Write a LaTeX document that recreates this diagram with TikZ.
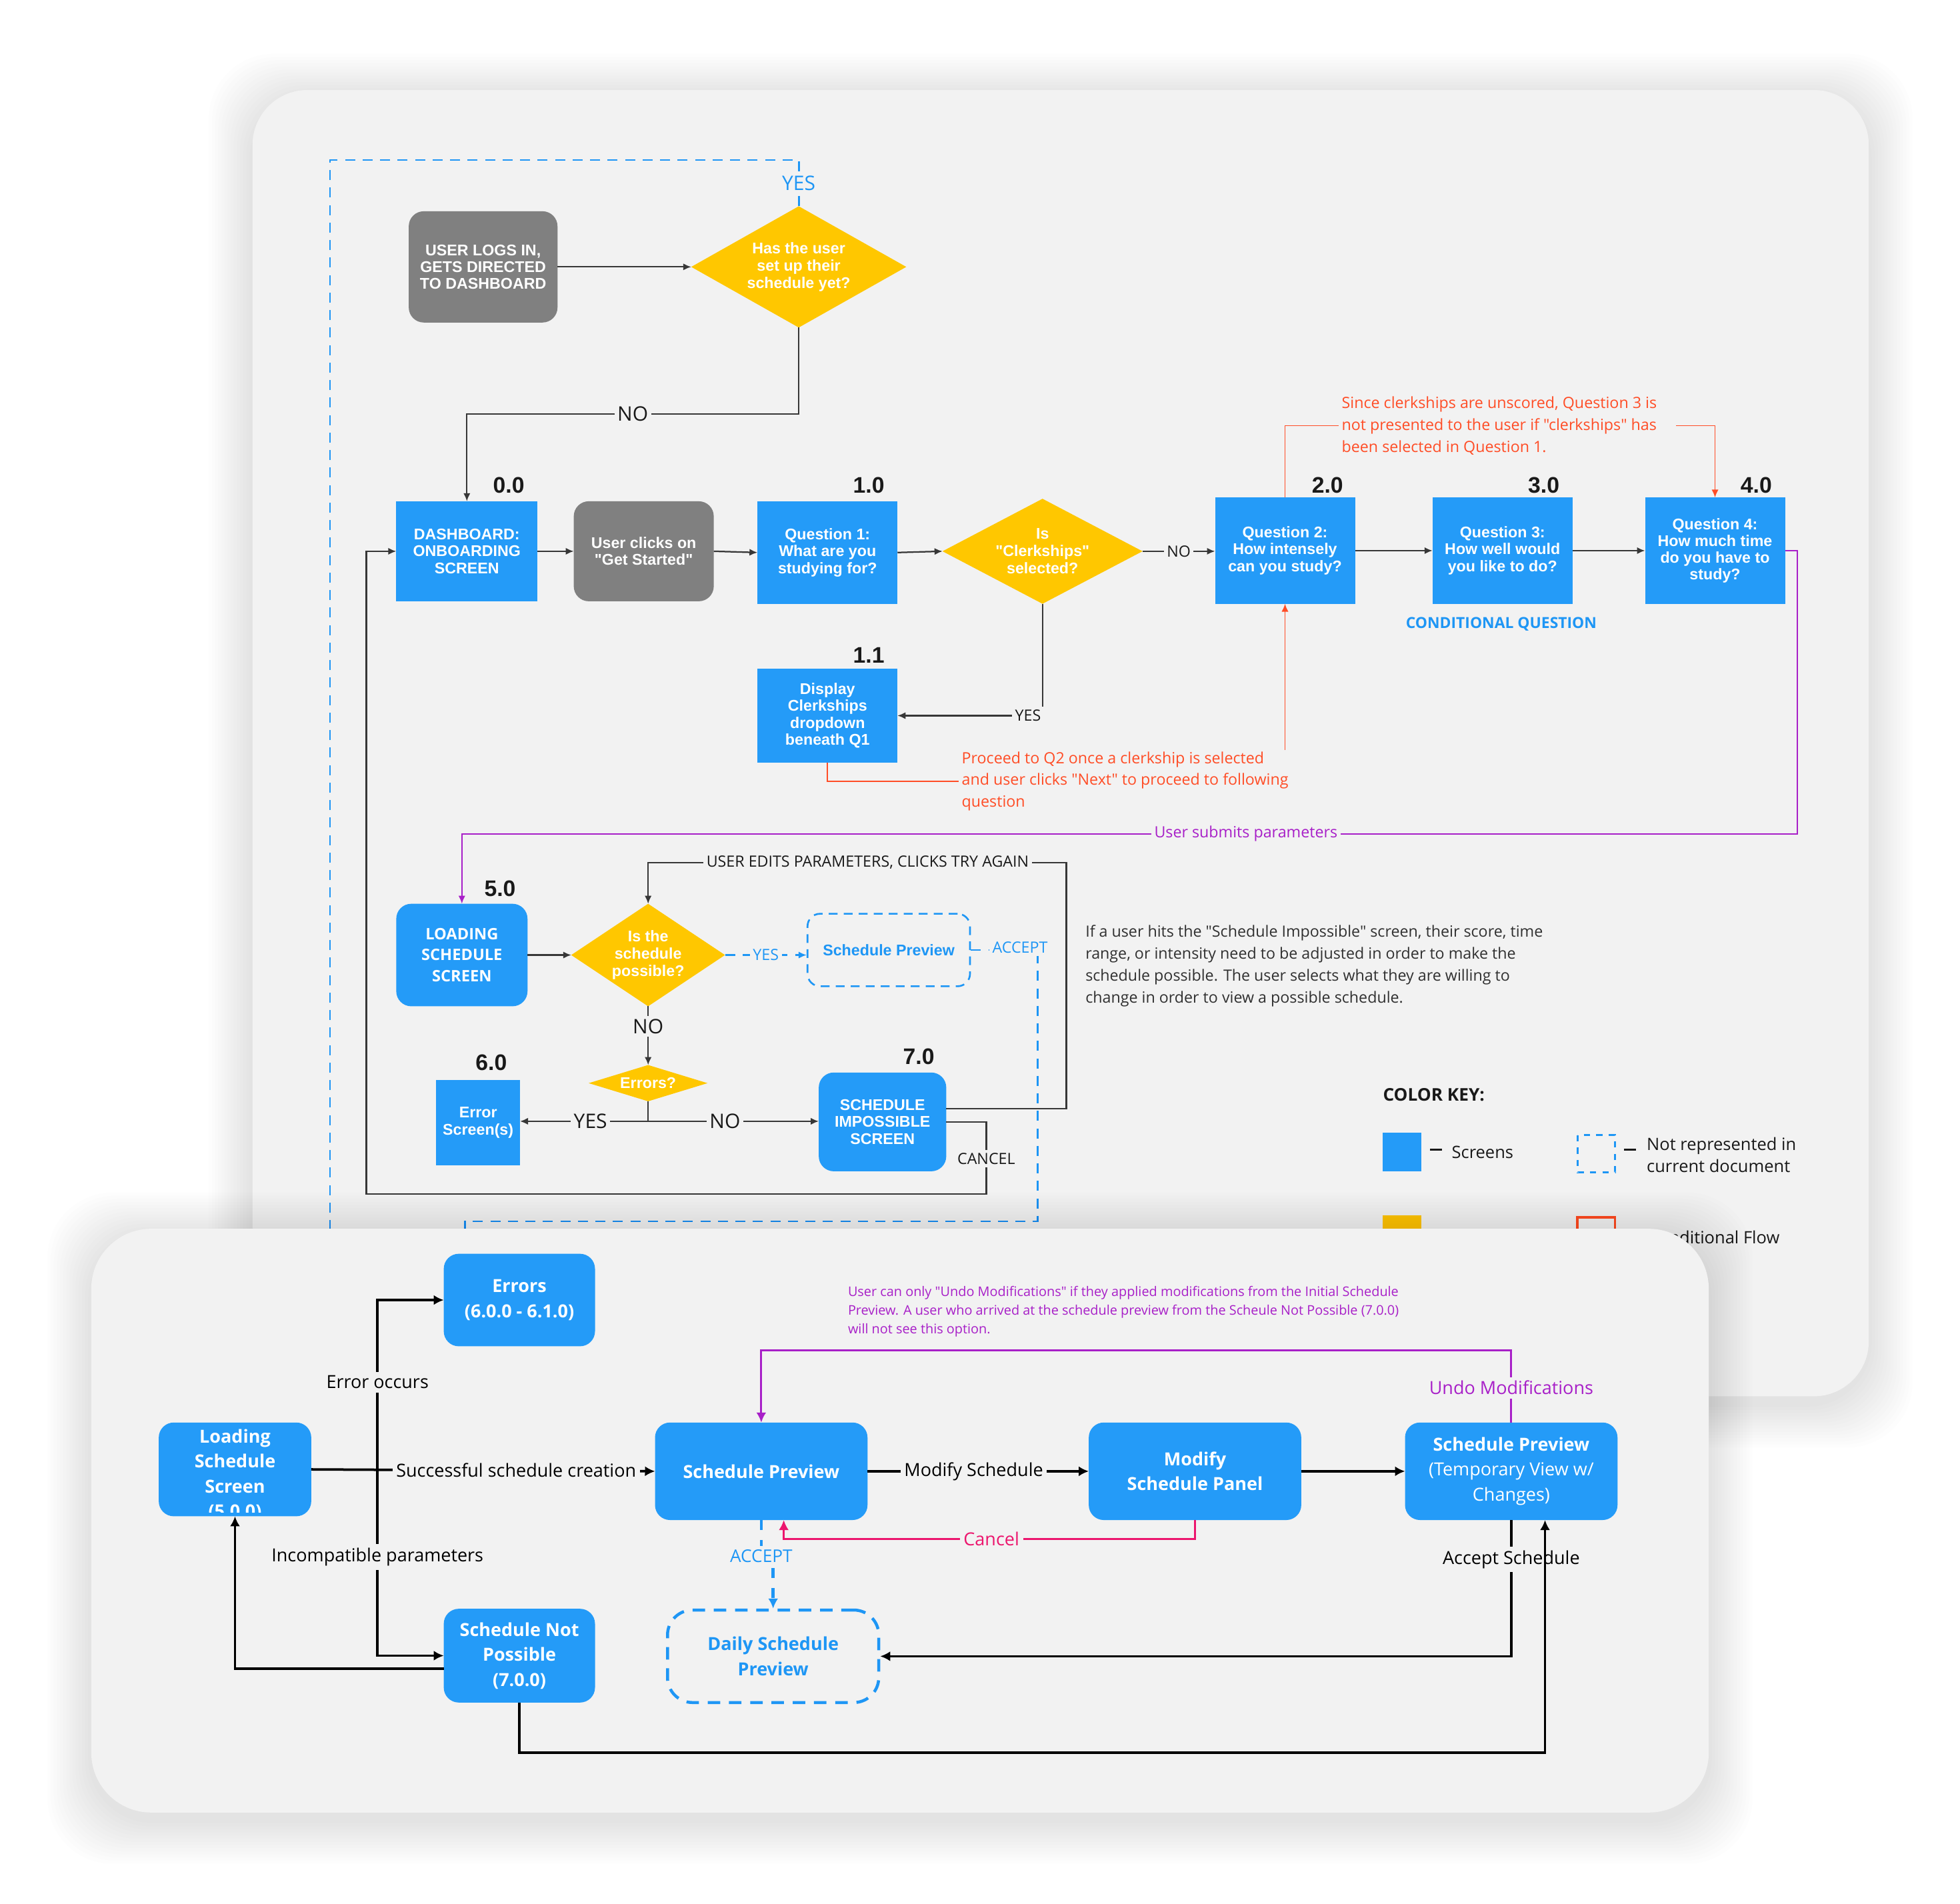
\documentclass[tikz,border=0pt]{standalone}
\usepackage{fontspec}
\setmainfont{Open Sans}[Ligatures=TeXOff]
\newfontfamily\arb{Liberation Sans}
\usetikzlibrary{shapes.geometric,arrows.meta}
\definecolor{scrblue}{RGB}{36,155,248}
\definecolor{yel}{RGB}{255,199,0}
\definecolor{gbox}{RGB}{128,128,128}
\definecolor{pbg}{RGB}{242,242,242}
\definecolor{redn}{RGB}{255,77,38}
\definecolor{purp}{RGB}{168,32,200}
\definecolor{pinkc}{RGB}{236,22,110}
\definecolor{lblue}{RGB}{30,150,245}
\definecolor{ink}{RGB}{25,25,25}
\definecolor{lnk}{RGB}{55,55,55}
\newcommand\mkshadow[4]{\foreach \k in {1,...,14}{\fill[black, opacity=0.007, rounded corners=26pt] (#1-\k*2.5, #2-\k*2.5+6) rectangle (#3+\k*2.5, #4+\k*2.5+6);}}
\newcommand\keydash{\raisebox{2.3pt}{\rule{4.8pt}{0.7pt}}}
\begin{document}
\begin{tikzpicture}[x=0.5pt,y=-0.5pt,
  scr/.style={fill=scrblue, draw=none, text=white, font=\arb\bfseries\fontsize{6.2}{6.75}\selectfont, align=center, inner sep=0pt, outer sep=0pt},
  gscr/.style={scr, fill=gbox, rounded corners=6pt},
  rscr/.style={scr, rounded corners=6pt},
  dmd/.style={diamond, fill=yel, draw=none, inner sep=0pt, outer sep=0pt},
  dtext/.style={text=white, font=\arb\bfseries\fontsize{6.2}{6.9}\selectfont, align=center, inner sep=0pt},
  num/.style={font=\arb\bfseries\fontsize{9}{9}\selectfont, text=ink, inner sep=0pt},
  ln/.style={draw=lnk, line width=0.6pt},
  arr/.style={-{Latex[length=3.2pt,width=2.8pt]}},
  lab/.style={fill=pbg, inner sep=1.2pt, font=\fontsize{6.2}{7}\selectfont, text=ink},
  biglab/.style={fill=pbg, inner sep=1.2pt, font=\fontsize{8}{9}\selectfont, text=ink},
  bdash/.style={draw=lblue, line width=0.75pt, dash pattern=on 4pt off 3pt},
  blab/.style={fill=pbg, inner sep=1.2pt, font=\fontsize{6.2}{7}\selectfont, text=lblue},
  rln/.style={draw=redn, line width=0.5pt},
  rtext/.style={font=\fontsize{6.2}{8.75}\selectfont, text=redn, align=left, inner sep=1pt},
  pln/.style={draw=purp, line width=0.6pt},
  plab/.style={fill=pbg, inner sep=1.2pt, font=\fontsize{6.2}{7}\selectfont, text=purp},
  keytext/.style={font=\fontsize{6.8}{8}\selectfont, text=ink, inner sep=0pt},
  box2/.style={fill=scrblue, draw=none, text=white, rounded corners=6pt, font=\bfseries\fontsize{7.2}{10}\selectfont, align=center, inner sep=0pt, outer sep=0pt},
  tk/.style={draw=black, line width=1pt},
  arr2/.style={-{Latex[length=4pt,width=4pt]}},
  lab2/.style={fill=pbg, inner sep=1.5pt, font=\fontsize{7.2}{8}\selectfont, text=black},
]
\useasboundingbox (0,0) rectangle (1568,1523);
\fill[white] (0,0) rectangle (1568,1523);

% ================= PANEL 1 =================
\mkshadow{202}{72}{1495}{1117}
\fill[pbg, rounded corners=22pt] (202,72) rectangle (1495,1117);

% nodes
\node[gscr, minimum width=59.5pt, minimum height=44.5pt] (login) at (386.5,213.5) {USER LOGS IN,\\GETS DIRECTED\\TO DASHBOARD};
\node[dmd, minimum width=86pt, minimum height=48.5pt] (d1) at (639,213.5) {};
\node[dtext] (d1t) at (d1.center) {Has the user\\set up their\\schedule yet?};

\node[scr, minimum width=56.5pt, minimum height=40pt] (dash) at (373.5,441) {DASHBOARD:\\ONBOARDING\\SCREEN};
\node[gscr, minimum width=56pt, minimum height=40pt] (click) at (515,441) {User clicks on\\"Get Started"};
\node[scr, minimum width=56pt, minimum height=41pt] (q1) at (662,442) {Question 1:\\What are you\\studying for?};
\node[dmd, minimum width=80pt, minimum height=42pt] (d2) at (834,441) {};
\node[dtext] (d2t) at (d2.center) {Is\\"Clerkships"\\selected?};
\node[scr, minimum width=56pt, minimum height=42.5pt] (q2) at (1028,440.5) {Question 2:\\How intensely\\can you study?};
\node[scr, minimum width=56pt, minimum height=42.5pt] (q3) at (1202,440.5) {Question 3:\\How well would\\you like to do?};
\node[scr, minimum width=56pt, minimum height=42.5pt] (q4) at (1372,440.5) {Question 4:\\How much time\\do you have to\\study?};
\node[scr, minimum width=56pt, minimum height=37.5pt] (q11) at (662,572.5) {Display\\Clerkships\\dropdown\\beneath Q1};

\node[rscr, font=\bfseries\fontsize{6.3}{8.5}\selectfont, minimum width=52.5pt, minimum height=41pt] (load5) at (369.5,764) {LOADING\\SCHEDULE\\SCREEN};
\node[dmd, minimum width=61.5pt, minimum height=41pt] (d3) at (518.5,764) {};
\node[dtext] (d3t) at (d3.center) {Is the\\schedule\\possible?};
\node[draw=lblue, line width=0.7pt, dash pattern=on 3.5pt off 2.5pt, rounded corners=5pt, minimum width=65pt, minimum height=29pt, text=lblue, font=\arb\bfseries\fontsize{6.2}{7}\selectfont, inner sep=0pt] (prev5) at (711,760) {Schedule Preview};
\node[dmd, minimum width=47.5pt, minimum height=14.5pt] (d4) at (518.5,866.5) {};
\node[dtext] (d4t) at (d4.center) {Errors?};
\node[scr, minimum width=33.5pt, minimum height=34pt] (err6) at (382.5,898) {Error\\Screen(s)};
\node[rscr, minimum width=51pt, minimum height=39.5pt] (imp7) at (706,897.5) {SCHEDULE\\IMPOSSIBLE\\SCREEN};

% number labels
\node[num] (n00) at (407,388) {0.0};
\node[num] (n10) at (695,388) {1.0};
\node[num] (n20) at (1062,388) {2.0};
\node[num] (n30) at (1235,388) {3.0};
\node[num] (n40) at (1405,388) {4.0};
\node[num] (n11) at (695,524) {1.1};
\node[num] (n50) at (400,711) {5.0};
\node[num] (n60) at (393,850) {6.0};
\node[num] (n70) at (735,845) {7.0};

\node[font=\bfseries\fontsize{6.1}{7}\selectfont, text=lblue] (condq) at (1201,499) {CONDITIONAL QUESTION};

% annotations
\node[rtext, anchor=west] (rn1) at (1071,340.5) {Since clerkships are unscored, Question 3 is\\not presented to the user if "clerkships" has\\been selected in Question 1.};
\node[rtext, anchor=west] (rn2) at (767,625) {Proceed to Q2 once a clerkship is selected\\and user clicks "Next" to proceed to following\\question};
\node[anchor=west, align=left, font=\fontsize{6.2}{8.8}\selectfont, text=ink!90, inner sep=1pt] (expl) at (866,772.5) {If a user hits the "Schedule Impossible" screen, their score, time\\range, or intensity need to be adjusted in order to make the\\schedule possible. The user selects what they are willing to\\change in order to view a possible schedule.};

% connectors panel 1
\draw[bdash] (d1.north) -- node[blab, font=\fontsize{8}{9}\selectfont] (yes1) {YES} (639,128) -- (264,128) -- (264,992);
\draw[ln,arr] (login.east) -- (d1.west);
\draw[ln,arr] (d1.south) -- (639,331) -- node[biglab] (no1) {NO} (373.5,331) -- (dash.north);
\draw[ln,arr] (dash.east) -- (click.west);
\draw[ln,arr] (click.east) -- (q1.west);
\draw[ln,arr] (q1.east) -- (d2.west);
\draw[ln,arr] (d2.east) -- node[lab] (no2) {NO} (d2.east -| q2.west);
\draw[ln,arr] (q2.east) -- (q3.west);
\draw[ln,arr] (q3.east) -- (q4.west);
\draw[ln,arr] (d2.south) -- (834,572.5) -- node[lab, pos=0.1] (yes2) {YES} (q11.east);
\draw[rln] (q2.north) |- (rn1.west);
\coordinate (rn1r) at (1341,340.5);
\draw[rln,arr] (rn1r) -- (rn1r -| q4.north) -- (q4.north);
\draw[rln] (q11.south) |- (rn2.west);
\coordinate (rq) at (1028,600);
\draw[rln,arr] (rq) -- (q2.south);
\draw[pln,arr] (q4.east) -- (1438,440.5) -- (1438,667) -- node[plab, pos=0.413] (usp) {User submits parameters} (369.5,667) -- (load5.north);
\draw[ln,arr] (load5.east) -- (d3.west);
\draw[bdash,arr] (d3.east) -- node[blab] (yes3) {YES} (d3.east -| prev5.west);
\draw[bdash] (prev5.east) -- (830,760) -- (830,977) -- (372,977) -- (372,992);
\node[blab] (acc1) at (816,758) {ACCEPT};
\draw[ln,arr] ([yshift=5.25pt]imp7.east) -- (853,887) -- (853,690) -- node[lab, pos=0.475] (edit) {USER EDITS PARAMETERS, CLICKS TRY AGAIN} (518.5,690) -- (d3.north);
\draw[ln,arr] (imp7.east) -- (789,897.5) -- node[lab, pos=0.51] (canc) {CANCEL} (789,955) -- (293,955) -- (293,441) -- (dash.west);
\draw[ln,arr] (d3.south) -- node[biglab, pos=0.34] (no3) {NO} (d4.north);
\coordinate (ej) at (518.5,897);
\draw[ln] (d4.south) -- (ej);
\draw[ln,arr] (ej) -- node[biglab, pos=0.45] (yes4) {YES} (ej -| err6.east);
\draw[ln,arr] (ej) -- node[biglab, pos=0.45] (no4) {NO} (ej -| imp7.west);

% color key
\node[anchor=west, font=\bfseries\fontsize{7}{8}\selectfont, text=ink, inner sep=0pt] (ckey) at (1106,876) {COLOR KEY:};
\fill[scrblue] (1106,906) rectangle (1137,937);
\node[keytext] (kd1) at (1149,922) {\keydash};
\node[keytext, anchor=west] (ks1) at (1161,922) {Screens};
\draw[draw=lblue, line width=0.8pt, dash pattern=on 2.5pt off 2.5pt] (1262,908) rectangle (1292,938);
\node[keytext] (kd2) at (1304,922) {\keydash};
\node[keytext, anchor=west, align=left, font=\fontsize{6.8}{8.8}\selectfont] (ks2) at (1317,924) {Not represented in\\current document};
\fill[yel] (1106,972) rectangle (1137,1003);
\node[keytext] (kd3) at (1149,990) {\keydash};
\node[keytext, anchor=west] (ks3) at (1162,990) {Conditional};
\draw[draw=redn, line width=1pt] (1262,974) rectangle (1292,1004);
\node[keytext] (kd4) at (1304,990) {\keydash};
\node[keytext, anchor=west] (ks4) at (1318,990) {Conditional Flow};

% ================= PANEL 2 =================
\mkshadow{73}{983}{1367}{1450}
\fill[pbg, rounded corners=24pt] (73,983) rectangle (1367,1450);

\node[box2, minimum width=60.5pt, minimum height=37pt] (errs) at (415.5,1040) {Errors\\(6.0.0 - 6.1.0)};
\node[box2, minimum width=61pt, minimum height=37.5pt, path picture={\clip (path picture bounding box.north west) rectangle ([yshift=1.6pt]path picture bounding box.south east); \node[text=white, font=\bfseries\fontsize{7.2}{10}\selectfont, align=center, inner sep=0pt] at ([yshift=-2.25pt]path picture bounding box.center) {Loading\\Schedule\\Screen\\(5.0.0)};}] (load) at (188,1175.5) {};
\node[box2, minimum width=60.5pt, minimum height=37.5pt] (snp) at (415.5,1324.5) {Schedule Not\\Possible\\(7.0.0)};
\node[box2, minimum width=85pt, minimum height=39pt] (sp) at (609,1177) {Schedule Preview};
\node[box2, minimum width=85pt, minimum height=39pt] (msp) at (956,1177) {Modify\\Schedule Panel};
\node[box2, minimum width=85pt, minimum height=39pt] (tmp) at (1209,1177) {Schedule Preview\\\mdseries(Temporary View w/\\\mdseries Changes)};
\node[draw=lblue, line width=1.2pt, dash pattern=on 5pt off 3.5pt, rounded corners=10pt, minimum width=84.5pt, minimum height=37pt, text=lblue, font=\bfseries\fontsize{7.2}{10}\selectfont, align=center, inner sep=0pt] (daily) at (618.5,1325) {Daily Schedule\\Preview};

\node[anchor=west, align=left, font=\fontsize{5.3}{7.5}\selectfont, text=purp, inner sep=0pt] (pnote) at (678,1049) {User can only "Undo Modifications" if they applied modifications from the Initial Schedule\\Preview. A user who arrived at the schedule preview from the Scheule Not Possible (7.0.0)\\will not see this option.};

\coordinate (jx) at (302,1175.5);
\draw[tk,arr2] (load.east) -- node[lab2, pos=0.596] (ssc) {Successful schedule creation} (sp.west);
\draw[tk,arr2] (jx) -- node[lab2, pos=0.515] (eoc) {Error occurs} (302,1040) -- (errs.west);
\draw[tk,arr2] (jx) -- node[lab2, pos=0.47] (inc) {Incompatible parameters} (302,1324.5) -- (snp.west);
\draw[tk,arr2] ([yshift=-5.25pt]snp.west) -- (188,1335) -- (load.south);
\draw[tk,arr2] (sp.east) -- node[lab2, pos=0.48] (mods) {Modify Schedule} (msp.west);
\draw[tk,arr2] (msp.east) -- (tmp.west);
\draw[draw=pinkc, line width=0.8pt, arr2] (msp.south) -- (956,1231) -- node[lab2, text=pinkc, pos=0.495] (cnl) {Cancel} (627,1231) -- ([xshift=9pt]sp.south);
\draw[draw=purp, line width=0.8pt, arr2] (tmp.north) -- node[lab2, text=purp, pos=0.48] (undo) {Undo Modifications} (1209,1080) -- (609,1080) -- (sp.north);
\draw[draw=lblue, line width=1.2pt, dash pattern=on 4pt off 4pt, arr2] (sp.south) -- (609,1245) -- (618.5,1245) -- (daily.north);
\node[lab2, text=lblue, font=\fontsize{7}{8}\selectfont] (acc2) at (609,1245) {ACCEPT};
\draw[tk,arr2] (tmp.south) -- node[lab2, pos=0.29] (accs) {Accept Schedule} (1209,1325) -- (daily.east);
\draw[tk,arr2] (snp.south) -- (415.5,1402) -- (1236,1402) -- ([xshift=13.5pt]tmp.south);
\end{tikzpicture}
\end{document}
